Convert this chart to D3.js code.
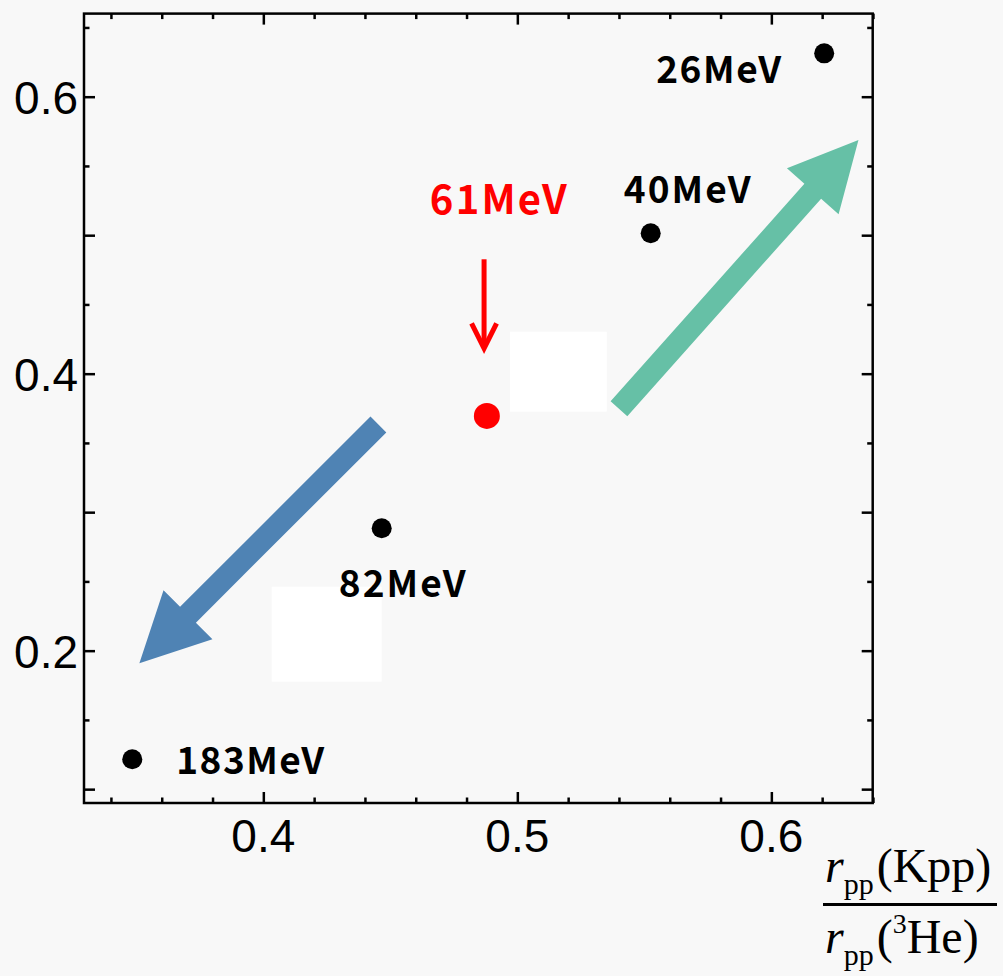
<!DOCTYPE html>
<html><head><meta charset="utf-8">
<script src="https://cdnjs.cloudflare.com/ajax/libs/d3/7.8.5/d3.min.js"></script>
<style>
html,body{margin:0;padding:0;background:#f8f8f8;}
svg{display:block;}
</style></head>
<body>
<svg id="chart" width="1003" height="976"></svg>
<script>
// ---- data ----
const labels = ["26MeV", "40MeV", "61MeV", "82MeV", "183MeV"];
const xValues = [0.6208, 0.5525, 0.4880, 0.4466, 0.3484];
const yValues = [0.6313, 0.5014, 0.3695, 0.2884, 0.1216];
const highlight = [false, false, true, false, false];
const xTickLabels = [0.4, 0.5, 0.6];
const yTickLabels = [0.2, 0.4, 0.6];
// annotation arrows in data units: [x0, y0, x1, y1]
const blueArrow = [0.4453, 0.3633, 0.3512, 0.1909];
const greenArrow = [0.5400, 0.3747, 0.6343, 0.5687];
const redArrow = [0.4869, 0.4826, 0.4869, 0.4183];
// white patches in data units: [x0, y0, x1, y1]
const patches = [[0.4971, 0.4303, 0.5352, 0.3726], [0.4033, 0.2462, 0.4466, 0.1776]];

(function () {
// ---- layout ----
const svg = d3.select("#chart");
const pL = 84, pR = 872.7, pT = 13.6, pB = 803;
const x = d3.scaleLinear().domain([0.3294, 0.6399]).range([pL, pR]);
const y = d3.scaleLinear().domain([0.09, 0.66]).range([pB, pT]);

// label offsets (px) relative to point: [dx, dy, anchor]
const labelLayout = [[-43, 30, "end"], [-27, -30, "start"], [-57, -202, "start"], [-43, 69, "start"], [44, 15, "start"]];
const labelWidths = [125, 127, 137, 127, 148];

// white patches
svg.selectAll("rect.patch").data(patches).enter().append("rect")
  .attr("x", d => x(d[0])).attr("y", d => y(d[1]))
  .attr("width", d => x(d[2]) - x(d[0])).attr("height", d => y(d[3]) - y(d[1]))
  .attr("fill", "#ffffff");

// axes
const majorX = [0.4, 0.5, 0.6];
const minorX = d3.range(0.34, 0.6401, 0.02).map(v => +v.toFixed(2)).filter(v => Math.abs(v*10 - Math.round(v*10)) > 1e-6);
const majorY = d3.range(0.1, 0.6501, 0.1).map(v => +v.toFixed(2));
const minorY = d3.range(0.15, 0.6601, 0.1).map(v => +v.toFixed(2));

function tickAxis(axisFn, scale, vals, len, tr) {
  const g = svg.append("g").attr("transform", tr)
    .call(axisFn(scale).tickValues(vals).tickSize(len).tickFormat(""));
  g.select(".domain").remove();
  g.selectAll("line").attr("stroke", "#000").attr("stroke-width", 2.5);
  return g;
}
tickAxis(d3.axisBottom, x, majorX, -11, `translate(0,${pB})`);
tickAxis(d3.axisBottom, x, minorX, -5.5, `translate(0,${pB})`);
tickAxis(d3.axisTop, x, majorX, -11, `translate(0,${pT})`);
tickAxis(d3.axisTop, x, minorX, -5.5, `translate(0,${pT})`);
tickAxis(d3.axisLeft, y, majorY, -11, `translate(${pL},0)`);
tickAxis(d3.axisLeft, y, minorY, -5.5, `translate(${pL},0)`);
tickAxis(d3.axisRight, y, majorY, -11, `translate(${pR},0)`);
tickAxis(d3.axisRight, y, minorY, -5.5, `translate(${pR},0)`);

svg.append("rect").attr("x", pL).attr("y", pT).attr("width", pR - pL).attr("height", pB - pT)
  .attr("fill", "none").attr("stroke", "#000").attr("stroke-width", 2.5);

// tick labels
svg.selectAll("text.xt").data(xTickLabels).enter().append("text")
  .attr("x", d => x(d)).attr("y", 852).attr("text-anchor", "middle")
  .attr("font-family", "Liberation Sans, Arial, sans-serif").attr("font-size", 46).attr("fill", "#000")
  .text(d => d.toFixed(1));
svg.selectAll("text.yt").data(yTickLabels).enter().append("text")
  .attr("x", 78).attr("y", d => y(d) + 17).attr("text-anchor", "end")
  .attr("font-family", "Liberation Sans, Arial, sans-serif").attr("font-size", 46).attr("fill", "#000")
  .text(d => d.toFixed(1));

// block arrows
function blockArrow(a, color) {
  const x0 = x(a[0]), y0 = y(a[1]), x1 = x(a[2]), y1 = y(a[3]);
  const dx = x1 - x0, dy = y1 - y0, L = Math.hypot(dx, dy);
  const ux = dx / L, uy = dy / L, px = -uy, py = ux;
  const sw = 11.2, hw = 34.6, hl = 68.7;
  const bx = x1 - ux * hl, by = y1 - uy * hl;
  const p = [
    [x0 + px * sw, y0 + py * sw], [bx + px * sw, by + py * sw], [bx + px * hw, by + py * hw],
    [x1, y1], [bx - px * hw, by - py * hw], [bx - px * sw, by - py * sw], [x0 - px * sw, y0 - py * sw]
  ];
  svg.append("path").attr("d", d3.line()(p) + "Z").attr("fill", color);
}
blockArrow(blueArrow, "#4f83b4");
blockArrow(greenArrow, "#66c0a6");

// red arrow
{
  const x0 = x(redArrow[0]), y0 = y(redArrow[1]), x1 = x(redArrow[2]), y1 = y(redArrow[3]);
  svg.append("line").attr("x1", x0).attr("y1", y0).attr("x2", x1).attr("y2", y1 - 2)
    .attr("stroke", "#ff0000").attr("stroke-width", 5);
  svg.append("path").attr("d", d3.line()([[x1 - 12.5, y1 - 25], [x1, y1], [x1 + 12.5, y1 - 25]]))
    .attr("fill", "none").attr("stroke", "#ff0000").attr("stroke-width", 5).attr("stroke-linejoin", "miter");
}

// points
const pts = labels.map((l, i) => ({l, x: xValues[i], y: yValues[i], h: highlight[i], i}));
svg.selectAll("circle.pt").data(pts).enter().append("circle")
  .attr("cx", d => x(d.x)).attr("cy", d => y(d.y))
  .attr("r", d => d.h ? 13 : 10)
  .attr("fill", d => d.h ? "#ff0000" : "#000");

svg.selectAll("text.pl").data(pts).enter().append("text")
  .attr("x", d => x(d.x) + labelLayout[d.i][0])
  .attr("y", d => y(d.y) + labelLayout[d.i][1])
  .attr("text-anchor", d => labelLayout[d.i][2])
  .attr("font-family", "Noto Sans CJK JP, sans-serif").attr("font-weight", "bold")
  .attr("font-size", d => d.h ? 40 : 37)
  .attr("textLength", d => labelWidths[d.i]).attr("lengthAdjust", "spacing")
  .attr("fill", d => d.h ? "#ff0000" : "#000")
  .text(d => d.l);

// axis title (fraction)
const serif = "Liberation Serif, Times New Roman, serif";
const num = svg.append("text").attr("x", 825).attr("y", 882).attr("font-family", serif).attr("font-size", 48).attr("fill", "#000");
num.append("tspan").attr("font-style", "italic").text("r");
num.append("tspan").attr("font-size", 30).attr("dy", 12).text("pp");
num.append("tspan").attr("dy", -12).attr("dx", 3).text("(Kpp)");
svg.append("line").attr("x1", 823).attr("x2", 997).attr("y1", 904.5).attr("y2", 904.5).attr("stroke", "#000").attr("stroke-width", 3);
const den = svg.append("text").attr("x", 825).attr("y", 953).attr("font-family", serif).attr("font-size", 48).attr("fill", "#000");
den.append("tspan").attr("font-style", "italic").text("r");
den.append("tspan").attr("font-size", 30).attr("dy", 12).text("pp");
den.append("tspan").attr("dy", -12).attr("dx", 3).text("(");
den.append("tspan").attr("font-size", 28).attr("dy", -20).text("3");
den.append("tspan").attr("dy", 20).text("He)");
})();
</script>
</body></html>
